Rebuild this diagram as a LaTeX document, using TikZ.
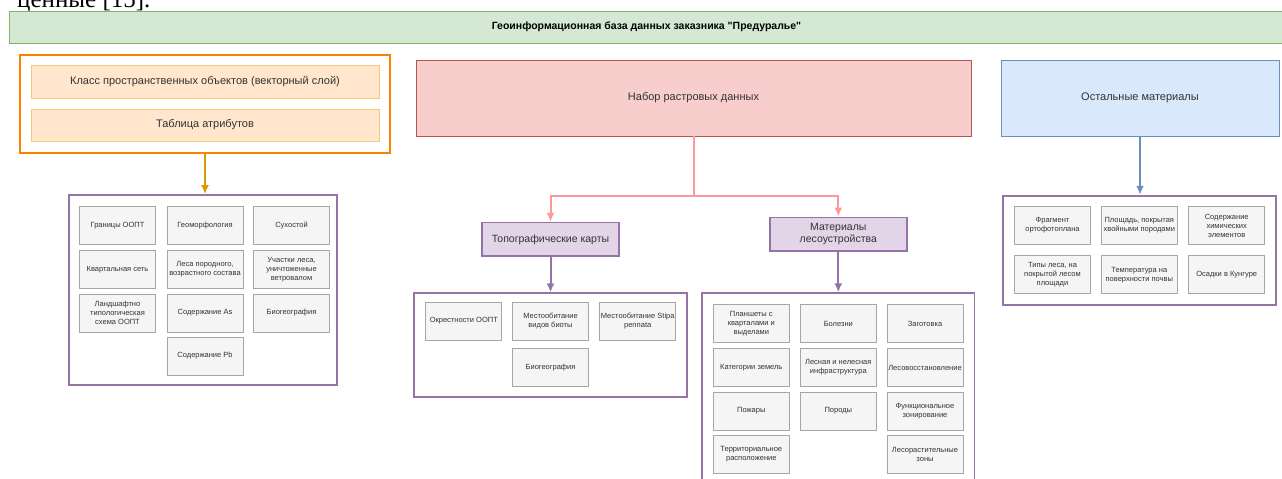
\documentclass[tikz,border=0pt]{standalone}
\usepackage{fontspec}
\setmainfont{Liberation Sans}[Ligatures=TeXOff]
\newfontfamily\pageserif{Liberation Serif}
\usepackage{tikz}
\usetikzlibrary{arrows.meta}

\definecolor{hdrfill}{HTML}{D5E8D4}
\definecolor{hdrline}{HTML}{82B366}
\definecolor{vecline}{HTML}{FF8000}
\definecolor{vecfill}{HTML}{FFE6CC}
\definecolor{vecbox}{HTML}{F2C879}
\definecolor{vecarrow}{HTML}{D79B00}
\definecolor{rasfill}{HTML}{F8CECC}
\definecolor{rasline}{HTML}{B85450}
\definecolor{rasarrow}{HTML}{FF9999}
\definecolor{grpfill}{HTML}{E1D5E7}
\definecolor{grpline}{HTML}{9673A6}
\definecolor{othfill}{HTML}{DAE8FC}
\definecolor{othline}{HTML}{6C8EBF}
\definecolor{cellfill}{HTML}{F5F5F5}
\definecolor{cellline}{HTML}{A6A6A6}
\definecolor{celltext}{HTML}{333333}

\tikzset{
  header/.style={draw=hdrline,fill=hdrfill,line width=0.8pt,minimum width=1275,minimum height=32,
    font=\bfseries\fontsize{10.5}{12}\selectfont},
  bigbox/.style={line width=0.8pt,text=celltext,font=\fontsize{11}{13}\selectfont,align=center},
  vecrow/.style={draw=vecbox,fill=vecfill,line width=0.8pt,minimum width=348,text=celltext,
    font=\fontsize{11}{13}\selectfont},
  subbox/.style={draw=grpline,fill=grpfill,line width=1.5pt,minimum width=137,minimum height=33.5,
    text=celltext,align=center,font=\fontsize{10.5}{12.5}\selectfont},
  grp/.style={draw=grpline,fill=white,line width=1.8pt},
  cell/.style={draw=cellline,fill=cellfill,line width=0.7pt,text=celltext,minimum width=76,
    minimum height=38,align=center,inner sep=1pt,font=\fontsize{7.5}{9}\selectfont},
  link/.style={line width=2pt,->}
}

\begin{document}
\begin{tikzpicture}[x=1pt,y=-1pt,>={Latex[length=9pt,width=8pt]}]
  \useasboundingbox (0,0) rectangle (1282,479);
  \clip (0,0) rectangle (1282,479);

  \node[anchor=base west,inner sep=0pt,font=\pageserif\fontsize{25}{30}\selectfont] (prevline) at (17,8) {ценные [15].};

  \node[header] (hdr) at (646.5,27) {Геоинформационная база данных заказника "Предуралье"};

  % top row
  \node[draw=vecline,fill=white,line width=2pt,minimum width=370,minimum height=98] (vecgrp) at (205,104) {};
  \node[vecrow,minimum height=33] (vecclass) at (205,81.5) {Класс пространственных объектов (векторный слой)};
  \node[vecrow,minimum height=32] (vecattr) at (205,125) {Таблица атрибутов};
  \node[bigbox,draw=rasline,fill=rasfill,minimum width=555,minimum height=76] (raster) at (693.5,98) {Набор растровых данных};
  \node[bigbox,draw=othline,fill=othfill,minimum width=278,minimum height=76] (other) at (1140,98) {Остальные материалы};

  \node[subbox] (topo) at (550.5,239.3) {Топографические карты};
  \node[subbox] (forest) at (838.3,234) {Материалы\\лесоустройства};

  % containers
  \node[grp,minimum width=268,minimum height=190] (grpvec) at (203,290) {};
  \node[grp,minimum width=272.4,minimum height=104] (grptopo) at (550.5,345.3) {};
  \node[grp,minimum width=272.5,minimum height=192] (grpforest) at (838.3,389.3) {};
  \node[grp,minimum width=272.7,minimum height=109.3] (grpother) at (1139.7,250.3) {};

  \foreach \n/\x/\y/\t in {va/117.5/225.5/{Границы ООПТ},vb/205/225.5/{Геоморфология},vc/291.5/225.5/{Сухостой},
      vd/117.5/269.5/{Квартальная сеть},ve/205/269.5/{Леса породного,\\возрастного состава},
      vf/291.5/269.5/{Участки леса,\\уничтоженные\\ветровалом},vg/117.5/313/{Ландшафтно\\типологическая\\схема ООПТ},
      vh/205/313/{Содержание As},vi/291.5/313/{Биогеография},vj/205/356/{Содержание Pb}}
    \node[cell] (\n) at (\x,\y) {\t};

  \foreach \n/\x/\y/\t in {ta/463.8/321/{Окрестности ООПТ},tb/550.5/321/{Местообитание\\видов биоты},
      tc/637.7/321/{Местообитание Stipa\\pennata},td/550.5/367.5/{Биогеография}}
    \node[cell] (\n) at (\x,\y) {\t};

  \foreach \n/\x/\y/\t in {fa/751.3/323.7/{Планшеты с\\кварталами и\\выделами},fb/838.3/323.7/{Болезни},
      fc/925/323.7/{Заготовка},fd/751.3/367.5/{Категории земель},
      fe/838.3/367.5/{Лесная и нелесная\\инфраструктура},ff/925/367.5/{Лесовосстановление},
      fg/751.3/411/{Пожары},fh/838.3/411/{Породы},fi/925/411/{Функциональное\\зонирование},
      fj/751.3/454.3/{Территориальное\\расположение},fk/925/454.3/{Лесорастительные\\зоны}}
    \node[cell] (\n) at (\x,\y) {\t};

  \foreach \n/\x/\y/\t in {oa/1052.5/225.5/{Фрагмент\\ортофотоплана},ob/1139.3/225.5/{Площадь, покрытая\\хвойными породами},
      oc/1226.7/225.5/{Содержание\\химических\\элементов},od/1052.5/274.7/{Типы леса, на\\покрытой лесом\\площади},
      oe/1139.3/274.7/{Температура на\\поверхности почвы},of/1226.7/274.7/{Осадки в Кунгуре}}
    \node[cell] (\n) at (\x,\y) {\t};

  % connectors
  \draw[link,vecarrow] (vecgrp.south) -- (vecgrp.south |- grpvec.north);
  \draw[link,rasarrow] (raster.south) -- ++(0,59.7) -| (topo.north);
  \draw[link,rasarrow] (raster.south) -- ++(0,59.7) -| (forest.north);
  \draw[link,grpline] (topo.south) -- (topo.south |- grptopo.north);
  \draw[link,grpline] (forest.south) -- (forest.south |- grpforest.north);
  \draw[link,othline] (other.south) -- (other.south |- grpother.north);
\end{tikzpicture}
\end{document}
